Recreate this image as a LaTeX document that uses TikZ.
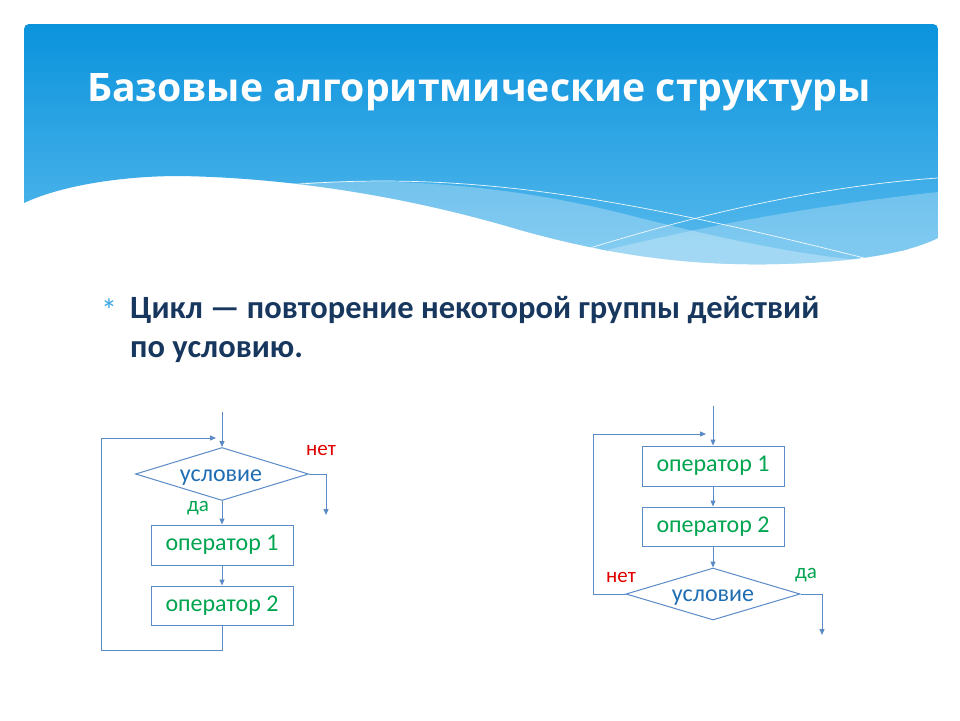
\documentclass[tikz,border=0pt]{standalone}
\usepackage{fontspec}
\setmainfont{Carlito}
\newfontfamily\titlefont{Open Sans}
\usetikzlibrary{shapes.geometric,arrows.meta}
\definecolor{hdtop}{HTML}{0A93DC}
\definecolor{hdbot}{HTML}{55B8EC}
\definecolor{flow}{HTML}{5B8BC7}
\definecolor{bodyblue}{HTML}{17375E}
\definecolor{bulletblue}{HTML}{3AA6E0}
\definecolor{condblue}{HTML}{1F6DB3}
\definecolor{opgreen}{HTML}{00A550}
\definecolor{nored}{HTML}{E00000}
\tikzset{
  flowline/.style={draw=flow, line width=1pt},
  flowarrow/.style={flowline, -{Triangle[length=6pt,width=5pt]}},
  opbox/.style={draw=flow, line width=1pt, minimum width=142pt, minimum height=40pt, inner sep=0pt, text=opgreen, font=\fontsize{24}{26}\selectfont},
  condbox/.style={diamond, draw=flow, line width=1pt, minimum width=173pt, minimum height=53pt, inner sep=0pt, aspect=3.26, text=condblue, font=\fontsize{24}{26}\selectfont},
  condtext/.style={text=condblue, font=\fontsize{24}{26}\selectfont, inner sep=0pt, anchor=base},
  lblno/.style={text=nored, font=\fontsize{21}{24}\selectfont, inner sep=0pt},
  lblyes/.style={text=opgreen, font=\fontsize{21}{24}\selectfont, inner sep=0pt},
  bodytext/.style={text=bodyblue, font=\bfseries\fontsize{32.5}{39}\selectfont, anchor=base west, inner sep=0pt},
}
\begin{document}
\begin{tikzpicture}[x=1pt,y=-1pt]
\useasboundingbox (0,0) rectangle (960,720);
\fill[white] (0,0) rectangle (960,720);
% header
\begin{scope}
\clip (24,203) [rounded corners=5pt] -- (24,24) -- (938,24) [sharp corners] -- (938,238)
  .. controls (910,252) and (860,262) .. (780,264)
  .. controls (700,266) and (620,258) .. (520,230)
  .. controls (420,200) and (300,178) .. (180,176)
  .. controls (120,176) and (60,186) .. (24,203) -- cycle;
\shade[top color=hdtop, bottom color=hdbot] (24,24) rectangle (938,250);
\fill[hdbot] (24,249) rectangle (938,280);
% light band 1
\fill[white, opacity=0.28] (280,184) .. controls (400,176) and (520,186) .. (640,218) .. controls (720,238) and (800,256) .. (880,262) -- (880,280) -- (280,280) -- cycle;
% light band 2
\fill[white, opacity=0.25] (560,262) .. controls (700,225) and (820,205) .. (938,192) -- (938,280) -- (560,280) -- cycle;
% thin lines
\draw[white, line width=0.7pt, opacity=0.9] (300,184) .. controls (470,172) and (620,196) .. (880,262);
\draw[white, line width=0.7pt, opacity=0.9] (590,248) .. controls (700,214) and (820,186) .. (938,178);
\end{scope}
\node[text=white, font=\titlefont\bfseries\fontsize{39.2}{46}\selectfont, anchor=base] (title) at (479,101) {Базовые алгоритмические структуры};
% bullet
\node[text=bulletblue, font=\fontsize{32}{32}\selectfont, anchor=base, inner sep=0pt] (bul) at (109,321) {*};
\node[bodytext] (body1) at (130,318) {Цикл — повторение некоторой группы действий};
\node[bodytext] (body2) at (130,357) {по условию.};
% diagram 1
\coordinate (s1) at (222,412);
\node[condbox] (d1) at (222,474) {};
\node[condtext] (t1) at (221,481) {условие};
\node[opbox] (o1a) at (222,545) {оператор 1};
\node[opbox, minimum height=39pt] (o2a) at (222,605.5) {оператор 2};
\coordinate (la) at (222,650);
\coordinate (lb) at (101,650);
\coordinate (lc) at (101,438);
\coordinate (ld) at (216,438);
\coordinate (ra) at (326,474);
\coordinate (rb) at (326,515);
\draw[flowarrow] (s1) -- (d1.north);
\draw[flowarrow] (d1.south) -- (o1a.north);
\draw[flowarrow] (o1a.south) -- (o2a.north);
\draw[flowarrow] (o2a.south) -- (la) -- (lb) -- (lc) -- (ld);
\draw[flowarrow] (d1.east) -- (ra) -- (rb);
\node[lblno] (n1) at (321,450) {нет};
\node[lblyes] (y1) at (198,508) {да};
% diagram 2
\coordinate (s2) at (713,406);
\node[opbox] (o1b) at (713,466) {оператор 1};
\node[opbox, minimum height=39pt] (o2b) at (713,526.5) {оператор 2};
\node[condbox, minimum width=174pt, minimum height=52pt] (d2) at (713,594) {};
\node[condtext] (t2) at (713,601) {условие};
\coordinate (ma) at (593,594);
\coordinate (mb) at (593,434);
\coordinate (mc) at (706,434);
\coordinate (qa) at (822,594);
\coordinate (qb) at (822,635);
\draw[flowarrow] (s2) -- (o1b.north);
\draw[flowarrow] (o1b.south) -- (o2b.north);
\draw[flowarrow] (o2b.south) -- (d2.north);
\draw[flowarrow] (d2.west) -- (ma) -- (mb) -- (mc);
\draw[flowarrow] (d2.east) -- (qa) -- (qb);
\node[lblno] (n2) at (621,577) {нет};
\node[lblyes] (y2) at (806,575) {да};
\end{tikzpicture}
\end{document}
